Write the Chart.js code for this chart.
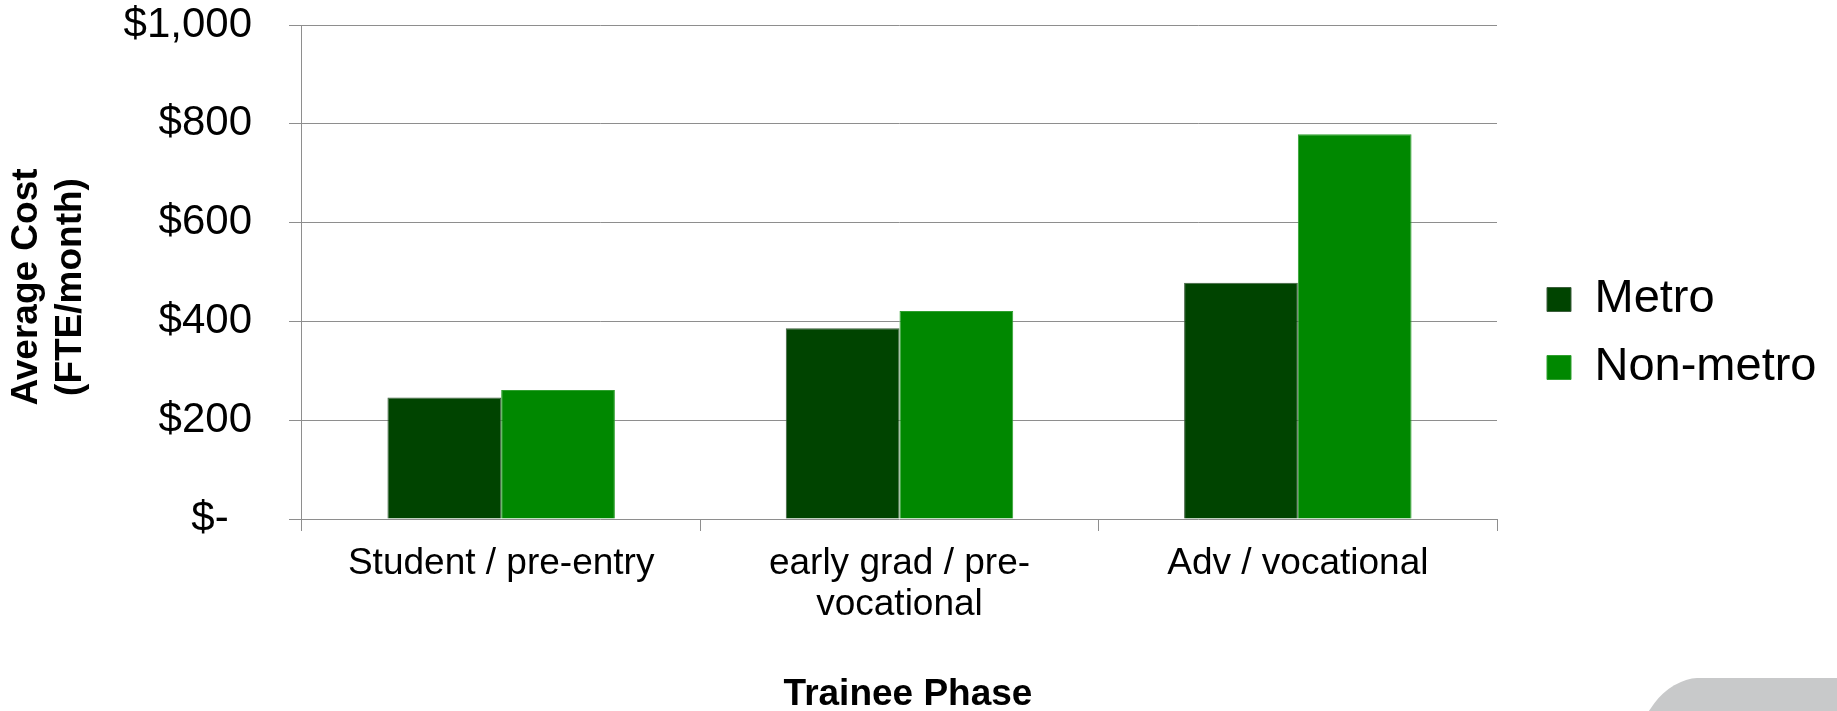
<!DOCTYPE html>
<html>
<head>
<meta charset="utf-8">
<script src="https://cdn.jsdelivr.net/npm/chart.js@4.4.1/dist/chart.umd.min.js"></script>
<style>
html,body{margin:0;padding:0;background:#fff;overflow:hidden;width:1837px;height:711px;}
#wrap{position:relative;width:1837px;height:711px;overflow:hidden;}
#c{position:absolute;left:0;top:0;}
#deco{position:absolute;left:1672px;top:678px;width:260px;height:60px;background:#c8c9ca;border-top-left-radius:25px;transform:skewX(-35deg);transform-origin:0 0;}
</style>
</head>
<body>
<div id="wrap"><div id="deco"></div><canvas id="c" width="1837" height="711"></canvas></div>
<script>
const categories = ['Student / pre-entry', ['early grad / pre-', 'vocational'], 'Adv / vocational'];
const seriesNames = ['Metro', 'Non-metro'];
const metroValues = [246, 386, 478];
const nonMetroValues = [261, 421, 779];
const yTickValues = [0, 200, 400, 600, 800, 1000];
const yTickLabels = ['$-  ', '$200', '$400', '$600', '$800', '$1,000'];
const yAxisTitle = ['Average Cost', '(FTE/month)'];
const xAxisTitle = 'Trainee Phase';

const GRID = '#8e8e8e';
Chart.defaults.font.family = "'Liberation Sans', Arial, Helvetica, sans-serif";
Chart.defaults.color = '#000';

const layoutTweaks = {
  id: 'layoutTweaks',
  afterLayout(chart) {
    const y = chart.scales.y;
    y.bottom += 30;
    const x = chart.scales.x;
    x.left += 17;
    const lg = chart.legend;
    if (lg) {
      lg.left = 1526;
      lg.right = 1837;
      lg.width = lg.right - lg.left;
      lg.top = 255;
      lg.bottom = 711;
      lg.height = lg.bottom - lg.top;
    }
  }
};

new Chart(document.getElementById('c'), {
  type: 'bar',
  data: {
    labels: categories,
    datasets: [
      { label: seriesNames[0], data: metroValues, backgroundColor: '#004400', borderColor: '#3d5e3d', borderWidth: 1, categoryPercentage: 0.571, barPercentage: 1 },
      { label: seriesNames[1], data: nonMetroValues, backgroundColor: '#008800', borderColor: '#2fa02f', borderWidth: 1, categoryPercentage: 0.571, barPercentage: 1 }
    ]
  },
  options: {
    responsive: false,
    animation: false,
    devicePixelRatio: 1,
    layout: { padding: { left: 0, top: 25, right: 60, bottom: 0 } },
    plugins: {
      legend: {
        position: 'right',
        align: 'start',
        maxWidth: 280,
        labels: { color: '#000', font: { size: 47 }, boxWidth: 24, boxHeight: 24, padding: 21 }
      },
      tooltip: { enabled: false }
    },
    scales: {
      x: {
        offset: true,
        grid: {
          display: true, offset: true, drawOnChartArea: true,
          color: (c) => (c.index === 0 ? GRID : 'rgba(0,0,0,0)'),
          tickColor: GRID, tickLength: 12, lineWidth: 1
        },
        border: { display: false },
        ticks: { color: '#000', font: { size: 37, lineHeight: 1.11 }, padding: 12, maxRotation: 0, minRotation: 0, autoSkip: false },
        title: { display: true, text: xAxisTitle, color: '#000', font: { size: 37, weight: 'bold', lineHeight: 1 }, padding: { top: 0, bottom: -2 } },
        afterFit(s) { s.height = 192; s.paddingLeft = 0; s.paddingRight = 0; }
      },
      y: {
        min: 0,
        max: 1000,
        ticks: {
          stepSize: 200, color: '#000', font: { size: 42, lineHeight: 1 }, padding: 37,
          callback: (v) => { const i = yTickValues.indexOf(v); return i >= 0 ? yTickLabels[i] : ''; }
        },
        grid: { color: GRID, tickColor: GRID, tickLength: 13, lineWidth: 1 },
        border: { display: false },
        title: { display: true, text: yAxisTitle, color: '#000', font: { size: 37, weight: 'bold', lineHeight: 1.2 }, padding: { top: 4.5, bottom: 0 } },
        afterFit(s) { s.width = 302; s.paddingTop = 0; s.paddingBottom = 0; }
      }
    }
  },
  plugins: [layoutTweaks]
});
</script>
</body>
</html>
